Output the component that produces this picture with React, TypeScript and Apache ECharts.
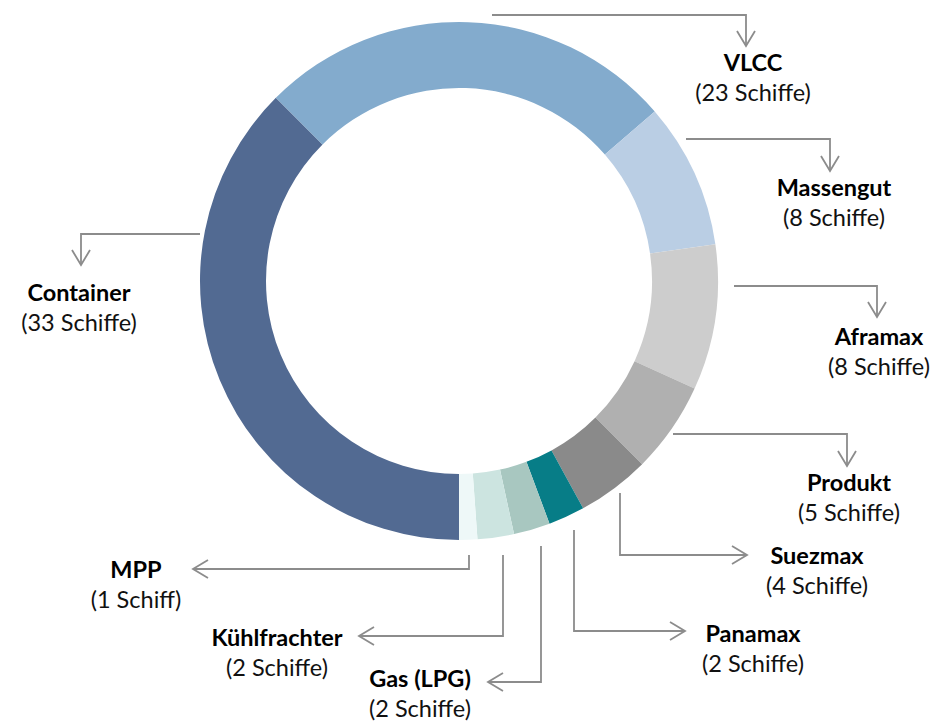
import React, { useEffect, useRef } from "react";
import * as echarts from "echarts";

const categories = ["Container", "VLCC", "Massengut", "Aframax", "Produkt", "Suezmax", "Panamax", "Gas (LPG)", "Kühlfrachter", "MPP"];
const ships = [33, 23, 8, 8, 5, 4, 2, 2, 2, 1];
const colors = ["#526a92", "#83abcd", "#bacee4", "#cdcdcd", "#b0b0b0", "#8a8a8a", "#077d87", "#a8c7c0", "#cce4e0", "#eef8f8"];

// annotation layout: connector polyline points (last point = arrow tip), arrow direction, label centre
type Ann = { pts: number[][]; dir: "down" | "left" | "right"; lx: number; ly: number };
const annotations: Ann[] = [
  { pts: [[200, 234], [81, 234], [81, 265]], dir: "down", lx: 79, ly: 292 },
  { pts: [[492, 15], [746, 15], [746, 46]], dir: "down", lx: 753, ly: 62 },
  { pts: [[686, 139], [830, 139], [830, 171]], dir: "down", lx: 834, ly: 187 },
  { pts: [[734, 286], [877, 286], [877, 317]], dir: "down", lx: 879, ly: 336 },
  { pts: [[673, 434], [847, 434], [847, 466]], dir: "down", lx: 849, ly: 482 },
  { pts: [[620, 493], [620, 555], [747, 555]], dir: "right", lx: 817, ly: 555 },
  { pts: [[574, 530], [574, 631], [685, 631]], dir: "right", lx: 753, ly: 633 },
  { pts: [[541, 546], [541, 682], [488, 682]], dir: "left", lx: 420, ly: 678 },
  { pts: [[503, 555], [503, 636], [359, 636]], dir: "left", lx: 277, ly: 637 },
  { pts: [[469, 555], [469, 569], [193, 569]], dir: "left", lx: 136, ly: 569 },
];

const LINE = "#8c8c8c";
const FONT = "Lato, 'Open Sans', sans-serif";

export default function App() {
  const ref = useRef<HTMLDivElement>(null);
  useEffect(() => {
    if (!ref.current) return;
    const chart = echarts.init(ref.current, undefined, { renderer: "svg" });
    const graphics: any[] = [];
    annotations.forEach((a, i) => {
      graphics.push({
        type: "polyline",
        shape: { points: a.pts },
        style: { stroke: LINE, lineWidth: 1.8, fill: null },
        silent: true,
      });
      const [tx, ty] = a.pts[a.pts.length - 1];
      let arrow: number[][];
      if (a.dir === "down") arrow = [[tx - 9, ty - 15], [tx, ty], [tx + 9, ty - 15]];
      else if (a.dir === "right") arrow = [[tx - 15, ty - 9], [tx, ty], [tx - 15, ty + 9]];
      else arrow = [[tx + 15, ty - 9], [tx, ty], [tx + 15, ty + 9]];
      graphics.push({
        type: "polyline",
        shape: { points: arrow },
        style: { stroke: LINE, lineWidth: 1.8, fill: null },
        silent: true,
      });
      const v = ships[i];
      graphics.push({
        type: "text",
        x: a.lx,
        y: a.ly,
        style: {
          text: categories[i],
          fill: "#000",
          font: `bold 23.5px ${FONT}`,
          textAlign: "center",
          textVerticalAlign: "middle",
        },
        silent: true,
      });
      graphics.push({
        type: "text",
        x: a.lx,
        y: a.ly + 30,
        style: {
          text: `(${v} Schiff${v === 1 ? "" : "e"})`,
          fill: "#111",
          font: `23.5px ${FONT}`,
          textAlign: "center",
          textVerticalAlign: "middle",
        },
        silent: true,
      });
    });
    chart.setOption({
      animation: false,
      backgroundColor: "#ffffff",
      series: [
        {
          type: "pie",
          center: [459, 281],
          radius: [193, 259],
          startAngle: 270,
          clockwise: true,
          label: { show: false },
          labelLine: { show: false },
          silent: true,
          itemStyle: { borderWidth: 0 },
          data: categories.map((c, i) => ({ name: c, value: ships[i], itemStyle: { color: colors[i] } })),
        },
      ],
      graphic: graphics,
    });
    return () => chart.dispose();
  }, []);
  return <div ref={ref} style={{ position: "fixed", left: 0, top: 0, width: 941, height: 723 }} />;
}
